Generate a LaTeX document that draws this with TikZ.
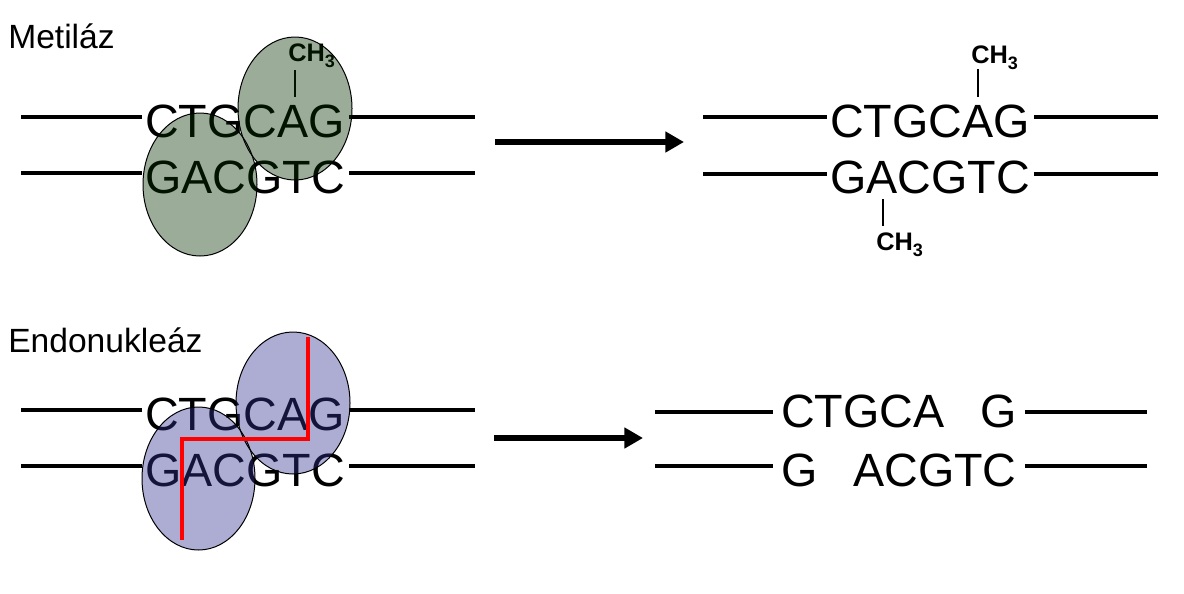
\documentclass[tikz,border=0pt]{standalone}
\usepackage{fontspec}
\setmainfont{Liberation Sans}
\usetikzlibrary{arrows.meta}
\definecolor{grn}{RGB}{5,48,0}
\definecolor{prp}{RGB}{50,50,148}
\newcommand{\methylgroup}{CH\raisebox{-4.5pt}{\fontsize{13.5}{14}\selectfont 3}}
\tikzset{
 dna/.style={font=\fontsize{35}{40}\selectfont, inner sep=0pt, anchor=base west},
 strandin/.style={line width=2.5pt, shorten >=2pt},
 strandout/.style={line width=2.5pt, shorten <=3pt},
 lbl/.style={font=\fontsize{25.2}{28}\selectfont, inner sep=0pt, anchor=base west},
 methyl/.style={font=\fontsize{19}{20}\selectfont\bfseries, inner sep=0pt, anchor=base west},
 tick/.style={line width=1.1pt},
 bigarrow/.style={line width=5pt, -{Triangle[length=14pt,width=15pt]}},
 enzyme/.style={line width=0.75pt},
 cut/.style={red, line width=3pt},
}
\begin{document}
\begin{tikzpicture}[x=0.75pt,y=-0.75pt]
\useasboundingbox (0,0) rectangle (1184,593);

% labels
\node[lbl] (metl) at (8,48) {Metiláz};
\node[lbl] (endl) at (8,352) {Endonukleáz};

% ---------- top left ----------
\node[dna] (t1) at (145,137) {CTGCAG};
\node[dna] (t2) at (145,193) {GACGTC};
\coordinate (t1L) at (21,117); \coordinate (t1R) at (475,117);
\coordinate (t2L) at (21,173); \coordinate (t2R) at (475,173);
\draw[strandin] (t1L) -- (t1L -| t1.west);
\draw[strandout] (t1.east |- t1R) -- (t1R);
\draw[strandin] (t2L) -- (t2L -| t2.west);
\draw[strandout] (t2.east |- t2R) -- (t2R);
\node[methyl] (m0) at (288,61) {\methylgroup};
\coordinate (k0a) at (295,70); \coordinate (k0b) at (295,97);
\draw[line width=0.8pt] (k0a) -- (k0b);

% enzyme (methylase)
\fill[grn, fill opacity=0.4] (200,184.5) ellipse [x radius=57, y radius=71.5]
                             (295,108.5) ellipse [x radius=57, y radius=71.5];
\draw[enzyme] (200,184.5) ellipse [x radius=57, y radius=71.5];
\draw[enzyme] (295,108.5) ellipse [x radius=57, y radius=71.5];

% arrow top
\coordinate (a1s) at (495,142); \coordinate (a1e) at (684,142);
\draw[bigarrow] (a1s) -- (a1e);

% ---------- top right ----------
\node[dna] (r1) at (830,137) {CTGCAG};
\node[dna] (r2) at (830,193) {GACGTC};
\coordinate (r1L) at (703,117); \coordinate (r1R) at (1158,117);
\coordinate (r2L) at (703,174); \coordinate (r2R) at (1158,174);
\draw[strandin] (r1L) -- (r1L -| r1.west);
\draw[strandout] (r1.east |- r1R) -- (r1R);
\draw[strandin] (r2L) -- (r2L -| r2.west);
\draw[strandout] (r2.east |- r2R) -- (r2R);
\node[methyl] (m1) at (971,63) {\methylgroup};
\coordinate (k1a) at (978,69); \coordinate (k1b) at (978,97);
\draw[tick] (k1a) -- (k1b);
\node[methyl] (m2) at (876,250) {\methylgroup};
\coordinate (k2a) at (883,199); \coordinate (k2b) at (883,226);
\draw[tick] (k2a) -- (k2b);

% ---------- bottom left ----------
\node[dna] (b1) at (145,430) {CTGCAG};
\node[dna] (b2) at (145,486) {GACGTC};
\coordinate (b1L) at (21,410); \coordinate (b1R) at (475,410);
\coordinate (b2L) at (21,466); \coordinate (b2R) at (475,466);
\draw[strandin] (b1L) -- (b1L -| b1.west);
\draw[strandout] (b1.east |- b1R) -- (b1R);
\draw[strandin] (b2L) -- (b2L -| b2.west);
\draw[strandout] (b2.east |- b2R) -- (b2R);

% enzyme (endonuclease)
\fill[prp, fill opacity=0.4] (198.5,478.5) ellipse [x radius=56.5, y radius=71.5]
                             (293,403) ellipse [x radius=57, y radius=71];
\draw[enzyme] (198.5,478.5) ellipse [x radius=56.5, y radius=71.5];
\draw[enzyme] (293,403) ellipse [x radius=57, y radius=71];

% cut line
\coordinate (c1) at (308,337); \coordinate (c2) at (308,439);
\coordinate (c3) at (182,439); \coordinate (c4) at (182,540);
\draw[cut] (c1) -- (c2) -- (c3) -- (c4);

% arrow bottom
\coordinate (a2s) at (494,438); \coordinate (a2e) at (643,438);
\draw[bigarrow] (a2s) -- (a2e);

% ---------- bottom right ----------
\node[dna] (s1a) at (781,427) {CTGCA};
\node[dna] (s1b) at (980,427) {G};
\node[dna] (s2a) at (781,486) {G};
\node[dna] (s2b) at (853,486) {ACGTC};
\coordinate (s1L) at (655,412); \coordinate (s1R) at (1147,412);
\coordinate (s2L) at (655,466); \coordinate (s2R) at (1147,466);
\draw[strandin, shorten >=6pt] (s1L) -- (s1L -| s1a.west);
\draw[strandout, shorten <=6pt] (s1b.east |- s1R) -- (s1R);
\draw[strandin, shorten >=6pt] (s2L) -- (s2L -| s2a.west);
\draw[strandout, shorten <=6pt] (s2b.east |- s2R) -- (s2R);
\end{tikzpicture}
\end{document}
